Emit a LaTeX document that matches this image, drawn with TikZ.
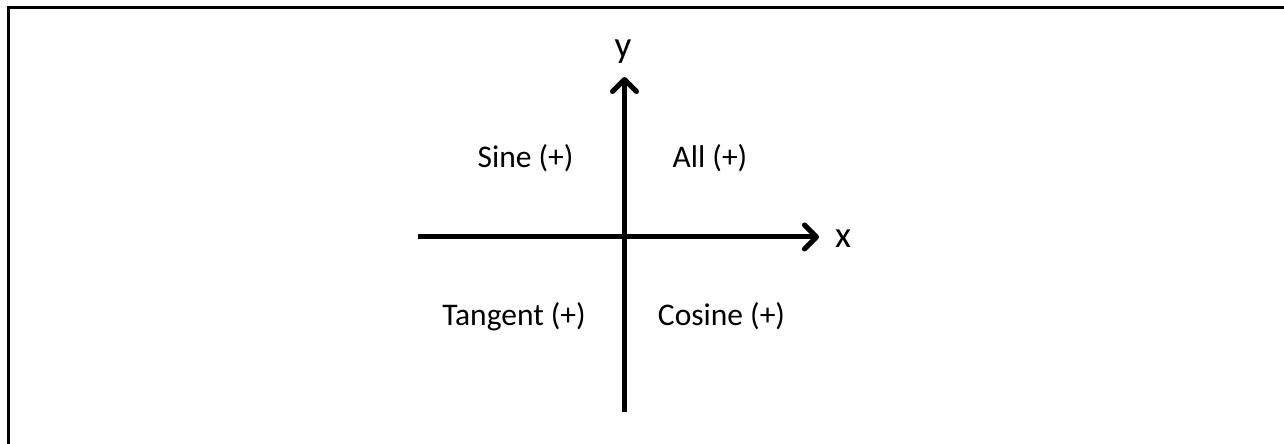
\documentclass[tikz,border=0pt]{standalone}
\usepackage{fontspec}
\setmainfont{Carlito}
\usetikzlibrary{arrows.meta}
\begin{document}
\begin{tikzpicture}[x=1pt,y=1pt,
  axis/.style={line width=5pt,-{Straight Barb[length=12pt,width=24pt,line cap=round,line join=round]}},
  quad/.style={anchor=base,inner sep=0pt,font=\fontsize{31.5}{37}\selectfont},
  axlabel/.style={anchor=base,inner sep=0pt,font=\fontsize{37}{43}\selectfont},
  frame/.style={line width=3pt,line join=miter}]
\useasboundingbox (0,0) rectangle (1284,444);
% frame (top and left edges)
\coordinate (fb) at (8,-5);
\coordinate (fc) at (8,436);
\coordinate (fr) at (1290,436);
\draw[frame] (fb) -- (fc) -- (fr);
% axes
\coordinate (xl) at (418,207);
\coordinate (xr) at (819,207);
\coordinate (yb) at (624.5,32);
\coordinate (yt) at (624.5,367);
\draw[axis] (xl) -- (xr);
\draw[axis] (yb) -- (yt);
% axis labels
\node[axlabel] (ylab) at (623,386) {y};
\node[axlabel] (xlab) at (843,196) {x};
% quadrant labels
\node[quad] (sine) at (525.5,276) {Sine (+)};
\node[quad] (all) at (710,276) {All (+)};
\node[quad] (tan) at (514,118) {Tangent (+)};
\node[quad] (cos) at (721.5,118) {Cosine (+)};
\end{tikzpicture}
\end{document}
